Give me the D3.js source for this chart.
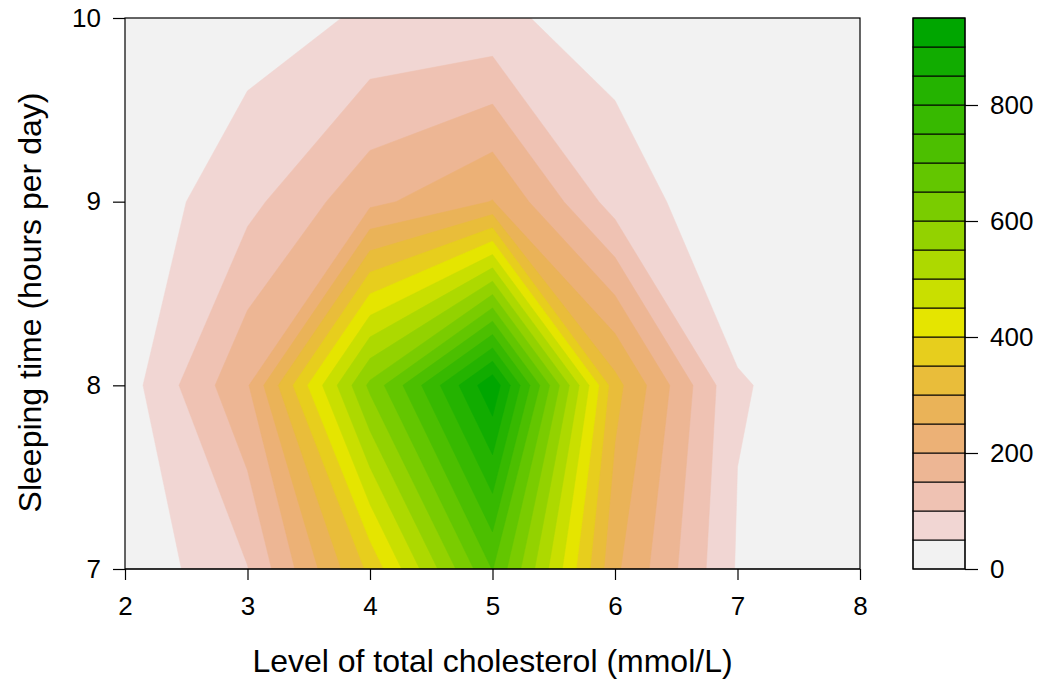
<!DOCTYPE html>
<html><head><meta charset="utf-8">
<script src="https://cdn.jsdelivr.net/npm/d3@7"></script>
<style>
html,body{margin:0;padding:0;background:#fff;}
text{font-family:"Liberation Sans",Arial,Helvetica,sans-serif;fill:#000;}
</style></head>
<body>
<svg id="chart" width="1048" height="684"></svg>
<script>
// Grid coordinates
const cholesterol = [2, 3, 4, 5, 6, 7, 8];          // x (mmol/L)
const sleepHours  = [7, 8, 9, 10];                   // y (hours per day)
// Density values, one row per sleeping-time value (y = 7, 8, 9, 10)
const row7  = [9, 98, 362, 702, 260, 45, 5];
const row8  = [25, 195, 612, 940, 318, 54, 23];
const row9  = [15, 85, 186, 252, 77, 13, 5];
const row10 = [5, 27, 57, 60, 28, 6, 2];
// Contour levels and tick labels
const levels = d3.range(0, 1000, 50);                // 0..950
const xTicks = [2, 3, 4, 5, 6, 7, 8];
const yTicks = [7, 8, 9, 10];
const barTicks = [0, 200, 400, 600, 800];

// colours: reversed terrain-like palette
function bandColor(k) {
  let h, s, v;
  if (k <= 8) { const f = k / 8; h = f / 6; s = f; v = 0.95 - 0.05 * f; }
  else { const f = (k - 8) / 10; h = 1/6 + f / 6; s = 1; v = 0.9 - 0.25 * f; }
  return hsv(h, s, v);
}
function hsv(h, s, v) {
  const i = Math.floor(h * 6), f = h * 6 - i;
  const p = v * (1 - s), q = v * (1 - s * f), t = v * (1 - s * (1 - f));
  let r, g, b;
  switch (((i % 6) + 6) % 6) {
    case 0: r = v; g = t; b = p; break;
    case 1: r = q; g = v; b = p; break;
    case 2: r = p; g = v; b = t; break;
    case 3: r = p; g = q; b = v; break;
    case 4: r = t; g = p; b = v; break;
    default: r = v; g = p; b = q;
  }
  return d3.rgb(Math.round(r * 255), Math.round(g * 255), Math.round(b * 255)).formatHex();
}

const svg = d3.select("#chart");
const plot = {left: 125, right: 860, top: 18, bottom: 569};
const x = d3.scaleLinear().domain([2, 8]).range([plot.left, plot.right]);
const y = d3.scaleLinear().domain([7, 10]).range([plot.bottom, plot.top]);

const nx = cholesterol.length, ny = sleepHours.length;
const grid = [].concat(row7, row8, row9, row10);

const contours = d3.contours().size([nx, ny]).thresholds(levels.slice(0, -1))(grid);

svg.append("defs").append("clipPath").attr("id", "clip")
  .append("rect").attr("x", plot.left).attr("y", plot.top)
  .attr("width", plot.right - plot.left).attr("height", plot.bottom - plot.top);

// map contour coordinates (grid point i sits at i+0.5) to data coords
const dx0 = cholesterol[0], dstepx = cholesterol[1] - cholesterol[0];
const dy0 = sleepHours[0], dstepy = sleepHours[1] - sleepHours[0];
const proj = d3.geoTransform({
  point: function(px, py) {
    this.stream.point(x(dx0 + (px - 0.5) * dstepx), y(dy0 + (py - 0.5) * dstepy));
  }
});
const path = d3.geoPath(proj);

const g = svg.append("g").attr("clip-path", "url(#clip)");
g.append("rect").attr("x", plot.left).attr("y", plot.top)
  .attr("width", plot.right - plot.left).attr("height", plot.bottom - plot.top)
  .attr("fill", bandColor(0));
g.selectAll("path").data(contours).join("path")
  .attr("d", path)
  .attr("fill", (d, i) => bandColor(i))
  .attr("stroke", (d, i) => bandColor(i))
  .attr("stroke-width", 0.5);

// plot box
svg.append("rect").attr("x", plot.left).attr("y", plot.top)
  .attr("width", plot.right - plot.left).attr("height", plot.bottom - plot.top)
  .attr("fill", "none").attr("stroke", "#000").attr("stroke-width", 1.2);

const tickFont = 26, titleFont = 32;

// x axis
const xAxis = d3.axisBottom(x).tickValues(xTicks).tickSize(11).tickPadding(17).tickFormat(d3.format("d"));
const xa = svg.append("g").attr("transform", `translate(0,${plot.bottom})`).call(xAxis);
xa.select(".domain").remove();
xa.selectAll("line").attr("stroke", "#000").attr("stroke-width", 1.2);
xa.selectAll("text").attr("font-size", tickFont).style("font-size", tickFont + "px");
svg.append("line").attr("x1", x(2)).attr("x2", x(8)).attr("y1", plot.bottom).attr("y2", plot.bottom)
  .attr("stroke", "#000").attr("stroke-width", 1.2);

// y axis
const yAxis = d3.axisLeft(y).tickValues(yTicks).tickSize(12).tickPadding(12).tickFormat(d3.format("d"));
const ya = svg.append("g").attr("transform", `translate(${plot.left},0)`).call(yAxis);
ya.select(".domain").remove();
ya.selectAll("line").attr("stroke", "#000").attr("stroke-width", 1.2);
ya.selectAll("text").attr("font-size", tickFont).style("font-size", tickFont + "px");

svg.append("text").attr("x", (plot.left + plot.right) / 2).attr("y", 672)
  .attr("text-anchor", "middle").style("font-size", titleFont + "px")
  .text("Level of total cholesterol (mmol/L)");
svg.append("text").attr("transform", `translate(41,${(plot.top + plot.bottom) / 2 + 9}) rotate(-90)`)
  .attr("text-anchor", "middle").style("font-size", titleFont + "px")
  .text("Sleeping time (hours per day)");

// colour bar
const bar = {left: 913, right: 965};
const by = d3.scaleLinear().domain([0, 950]).range([plot.bottom, plot.top]);
const bands = levels.slice(0, -1).map((lo, i) => ({lo, hi: levels[i + 1], i}));
svg.append("g").selectAll("rect").data(bands).join("rect")
  .attr("x", bar.left).attr("width", bar.right - bar.left)
  .attr("y", d => by(d.hi)).attr("height", d => by(d.lo) - by(d.hi))
  .attr("fill", d => bandColor(d.i)).attr("stroke", "#000").attr("stroke-width", 1);
svg.append("rect").attr("x", bar.left).attr("y", plot.top)
  .attr("width", bar.right - bar.left).attr("height", plot.bottom - plot.top)
  .attr("fill", "none").attr("stroke", "#000").attr("stroke-width", 1.2);
const barAxis = d3.axisRight(by).tickValues(barTicks).tickSize(13).tickPadding(12);
const ba = svg.append("g").attr("transform", `translate(${bar.right},0)`).call(barAxis);
ba.select(".domain").remove();
ba.selectAll("line").attr("stroke", "#000").attr("stroke-width", 1.2);
ba.selectAll("text").attr("font-size", tickFont).style("font-size", tickFont + "px");
</script>
</body></html>
